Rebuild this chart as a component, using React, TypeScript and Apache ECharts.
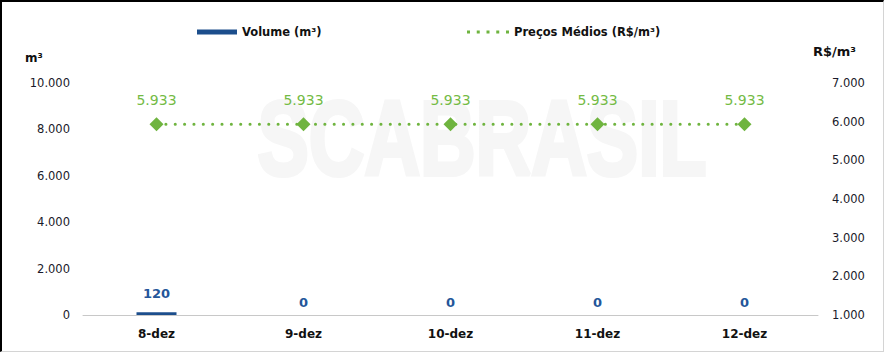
import React, { useEffect, useRef } from "react";
import * as echarts from "echarts";

const categories = ["8-dez", "9-dez", "10-dez", "11-dez", "12-dez"];
const volume = [120, 0, 0, 0, 0];
const precos = [5933, 5933, 5933, 5933, 5933];
const volumeName = "Volume (m³)";
const precoName = "Preços Médios (R$/m³)";
const leftAxisName = "m³";
const rightAxisName = "R$/m³";
const watermark = "SCABRASIL";

const fmt = (v: number) => {
  const s = Math.round(v).toString();
  return s.replace(/\B(?=(\d{3})+(?!\d))/g, ".");
};

const FONT = "DejaVu Sans";
const GREEN = "#6fb43f";
const BLUE = "#1c4e8c";

export default function App() {
  const ref = useRef<HTMLDivElement>(null);
  useEffect(() => {
    if (!ref.current) return;
    const chart = echarts.init(ref.current, undefined, { renderer: "svg" });
    const dotIcon =
      "path://M0,0h3v3h-3z M9.75,0h3v3h-3z M19.5,0h3v3h-3z M29.25,0h3v3h-3z M39,0h3v3h-3z";
    chart.setOption({
      animation: false,
      textStyle: { fontFamily: FONT },
      grid: { left: 83, right: 67, top: 83, bottom: 39, containLabel: false },
      legend: [
        {
          left: 197,
          top: 26,
          padding: 0,
          itemWidth: 40,
          itemHeight: 5,
          data: [{ name: volumeName, icon: "rect" }],
          textStyle: { fontFamily: FONT, fontSize: 11.5, fontWeight: "bold", color: "#111" },
        },
        {
          left: 467,
          top: 26,
          padding: 0,
          itemWidth: 42,
          itemHeight: 3,
          data: [{ name: precoName, icon: dotIcon }],
          textStyle: { fontFamily: FONT, fontSize: 11.5, fontWeight: "bold", color: "#111" },
        },
      ],
      xAxis: {
        type: "category",
        data: categories,
        axisLine: { show: true, lineStyle: { color: "#c8c8c8", width: 1 } },
        axisTick: { show: false },
        axisLabel: { fontFamily: FONT, fontSize: 12, fontWeight: "bold", color: "#111", margin: 13 },
      },
      yAxis: [
        {
          type: "value",
          min: 0,
          max: 10000,
          interval: 2000,
          splitLine: { show: false },
          axisLine: { show: false },
          axisTick: { show: false },
          axisLabel: { fontFamily: FONT, fontSize: 11.5, color: "#1a1a2a", margin: 13, formatter: fmt },
        },
        {
          type: "value",
          min: 1000,
          max: 7000,
          interval: 1000,
          splitLine: { show: false },
          axisLine: { show: false },
          axisTick: { show: false },
          axisLabel: { fontFamily: FONT, fontSize: 11.5, color: "#1a1a2a", margin: 14, formatter: fmt },
        },
      ],
      graphic: [
        {
          type: "text",
          z: 0,
          x: 482,
          y: 139,
          scaleX: 0.77,
          scaleY: 1.05,
          silent: true,
          style: {
            text: watermark,
            fontSize: 100,
            fontWeight: "bold",
            fontFamily: "Liberation Sans",
            fill: "#f6f6f6",
            stroke: "#f6f6f6",
            lineWidth: 4,
            align: "center",
            verticalAlign: "middle",
          },
        },
        {
          type: "text",
          left: 25,
          top: 52,
          style: { text: leftAxisName, fontSize: 12, fontWeight: "bold", fontFamily: FONT, fill: "#111" },
        },
        {
          type: "text",
          left: 813,
          top: 45,
          style: { text: rightAxisName, fontSize: 13, fontWeight: "bold", fontFamily: FONT, fill: "#111" },
        },
      ],
      series: [
        {
          name: volumeName,
          type: "bar",
          yAxisIndex: 0,
          barWidth: 40,
          itemStyle: { color: BLUE },
          z: 3,
          data: volume.map((v) => ({
            value: v,
            label: { distance: v > 0 ? 12 : 6 },
          })),
          label: {
            show: true,
            position: "top",
            fontFamily: FONT,
            fontSize: 13,
            fontWeight: "bold",
            color: "#24569a",
            formatter: (p: any) => fmt(p.value),
          },
        },
        {
          name: precoName,
          type: "line",
          yAxisIndex: 1,
          data: precos,
          symbol: "diamond",
          symbolSize: 14,
          z: 4,
          itemStyle: { color: GREEN },
          lineStyle: { color: GREEN, width: 3, type: [0.1, 9.25], cap: "round" },
          label: {
            show: true,
            position: "top",
            distance: 10,
            fontFamily: FONT,
            fontSize: 14,
            color: "#74bb45",
            formatter: (p: any) => fmt(p.value),
          },
        },
      ],
    });
    return () => chart.dispose();
  }, []);

  return (
    <div style={{ position: "fixed", left: 0, top: 0, width: 885, height: 354, background: "#fff" }}>
      <div ref={ref} style={{ position: "absolute", left: 0, top: 0, width: 885, height: 354 }} />
      <div
        style={{
          position: "absolute",
          left: 0,
          top: 0,
          width: 884,
          height: 352,
          boxSizing: "border-box",
          borderTop: "2px solid #000",
          borderLeft: "2px solid #000",
          borderRight: "1px solid #d4d4d4",
          borderBottom: "1px solid #d4d4d4",
          pointerEvents: "none",
        }}
      />
    </div>
  );
}
